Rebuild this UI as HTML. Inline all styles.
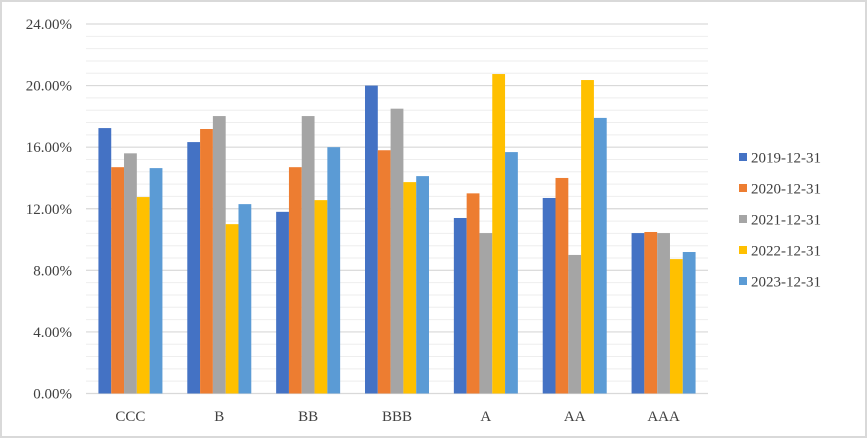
<!DOCTYPE html>
<html><head><meta charset="utf-8"><style>
html,body{margin:0;padding:0;background:#fff}
svg{display:block;font-family:"Liberation Serif","Noto Serif CJK SC",serif}
</style></head><body>
<svg width="867" height="438" viewBox="0 0 867 438" xmlns="http://www.w3.org/2000/svg">
<rect x="1" y="1" width="865" height="436" fill="#fff" stroke="#d9d9d9" stroke-width="2"/>
<g id="grid"></g>
<g id="bars"></g>
<g id="ylabels"></g>
<g id="xlabels"></g>
<g id="legend"></g>
</svg>
<script>
const categories=["CCC","B","BB","BBB","A","AA","AAA"];
const seriesNames=["2019-12-31","2020-12-31","2021-12-31","2022-12-31","2023-12-31"];
const s2019=[17.24,16.33,11.8,20.0,11.4,12.7,10.42];
const s2020=[14.7,17.18,14.7,15.8,13.0,14.0,10.49];
const s2021=[15.6,18.02,18.02,18.5,10.42,9.0,10.42];
const s2022=[12.76,11.0,12.56,13.73,20.75,20.36,8.73];
const s2023=[14.64,12.3,16.0,14.12,15.68,17.9,9.19];
const yTicks=[0,4,8,12,16,20,24];
const yTickLabels=["0.00%","4.00%","8.00%","12.00%","16.00%","20.00%","24.00%"];
const colors=["#4472c4","#ed7d31","#a5a5a5","#ffc000","#5b9bd5"];
const series=[s2019,s2020,s2021,s2022,s2023];
const NS="http://www.w3.org/2000/svg";
const X0=86,X1=708,Y0=393.5,YT=24,YMAX=24;
const y=v=>Y0-(v/YMAX)*(Y0-YT);
const bandW=(X1-X0)/categories.length;
const barW=12.8;
function mk(t,a,p){const e=document.createElementNS(NS,t);for(const k in a)e.setAttribute(k,a[k]);p.appendChild(e);return e;}
const grid=document.getElementById('grid');
for(let v=0.8;v<YMAX+0.01;v+=0.8){
  const l=mk('line',{x1:X0,x2:X1,y1:y(v),y2:y(v),stroke:'#eeeeee','stroke-width':1},grid);
  
  
}
yTicks.forEach((v,i)=>{
  const l=mk('line',{x1:X0,x2:X1,y1:y(v),y2:y(v),stroke:'#d9d9d9','stroke-width':1.2},grid);
  
  
  const t=mk('text',{x:72,y:y(v)+5,'text-anchor':'end','font-size':15,fill:'#404040'},document.getElementById('ylabels'));
  t.textContent=yTickLabels[i];
  
  
});
const bars=document.getElementById('bars');
categories.forEach((c,ci)=>{
  const cx=X0+bandW*(ci+0.5);
  const start=cx-barW*series.length/2;
  series.forEach((s,si)=>{
    const r=mk('rect',{x:start+si*barW,y:y(s[ci]),width:barW,height:Y0-y(s[ci]),fill:colors[si]},bars);
    
    
  });
  const t=mk('text',{x:cx,y:421,'text-anchor':'middle','font-size':15,fill:'#404040'},document.getElementById('xlabels'));
  t.textContent=c;
  
  
});
const leg=document.getElementById('legend');
seriesNames.forEach((n,i)=>{
  const yy=157+i*31;
  const g=mk('g',{},leg);
  
  
  mk('rect',{x:739,y:yy-4,width:8,height:8,fill:colors[i]},g);
  const t=mk('text',{x:751,y:yy+5.5,'font-size':15,fill:'#404040'},g);
  t.textContent=n;
});
</script>
</body></html>
